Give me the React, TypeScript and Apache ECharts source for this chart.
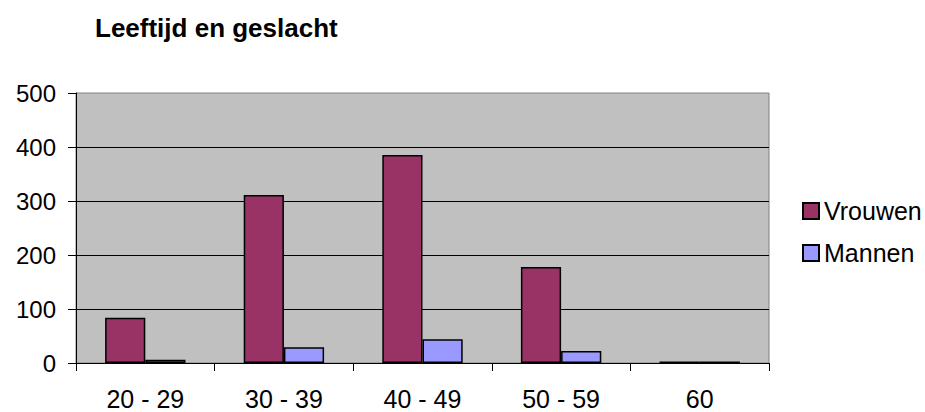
import React, { useEffect, useRef } from "react";
import * as echarts from "echarts";

const categories = ["20 - 29", "30 - 39", "40 - 49", "50 - 59", "60"];
const vrouwen = [84, 311, 385, 178, 3];
const mannen = [6, 29, 44, 22, 3];
const yTicks = { min: 0, max: 500, interval: 100 };
const titleText = "Leeftijd en geslacht";
const seriesNames = ["Vrouwen", "Mannen"];

const FONT = "'Liberation Sans', Arial, sans-serif";

export default function App() {
  const ref = useRef<HTMLDivElement>(null);
  useEffect(() => {
    if (!ref.current) return;
    const chart = echarts.init(ref.current, null, { renderer: "svg" });
    chart.setOption({
      animation: false,
      backgroundColor: "#ffffff",
      title: {
        text: titleText,
        left: 95,
        top: 13,
        padding: 0,
        textStyle: { fontFamily: FONT, fontWeight: "bold", fontSize: 26, lineHeight: 30, color: "#000" },
      },
      legend: {
        orient: "vertical",
        left: 802,
        top: 198,
        padding: 0,
        itemWidth: 16,
        itemHeight: 16,
        itemGap: 16,
        icon: "rect",
        textStyle: { fontFamily: FONT, fontSize: 25, color: "#000", lineHeight: 26 },
        data: seriesNames,
      },
      grid: {
        left: 76,
        right: 156,
        top: 93,
        bottom: 49,
        show: true,
        backgroundColor: "#C0C0C0",
        borderColor: "#808080",
        borderWidth: 1,
      },
      xAxis: {
        type: "category",
        data: categories,
        axisLine: { lineStyle: { color: "#000", width: 1 } },
        axisTick: { show: true, length: 8, lineStyle: { color: "#000" } },
        axisLabel: { fontFamily: FONT, fontSize: 25, color: "#000", margin: 23 },
      },
      yAxis: {
        type: "value",
        min: yTicks.min,
        max: yTicks.max,
        interval: yTicks.interval,
        axisLine: { show: true, lineStyle: { color: "#000", width: 1 } },
        axisTick: { show: true, length: 8, lineStyle: { color: "#000" } },
        axisLabel: { fontFamily: FONT, fontSize: 24, color: "#000", margin: 20 },
        splitLine: { show: true, showMaxLine: false, lineStyle: { color: "#000", width: 1 } },
      },
      series: [
        {
          name: seriesNames[0],
          type: "bar",
          data: vrouwen,
          barGap: "0%",
          barCategoryGap: "42%",
          itemStyle: { color: "#993366", borderColor: "#000", borderWidth: 1.5 },
        },
        {
          name: seriesNames[1],
          type: "bar",
          data: mannen,
          barGap: "0%",
          barCategoryGap: "42%",
          itemStyle: { color: "#9999FF", borderColor: "#000", borderWidth: 1.5 },
        },
      ],
    });
    return () => chart.dispose();
  }, []);
  return (
    <div
      ref={ref}
      style={{ position: "fixed", left: 0, top: 0, width: 925, height: 412 }}
    />
  );
}
